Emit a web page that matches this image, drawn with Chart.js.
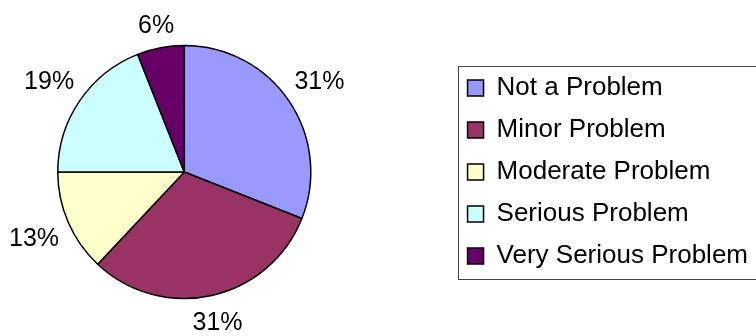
<!DOCTYPE html>
<html>
<head>
<meta charset="utf-8">
<script src="https://cdn.jsdelivr.net/npm/chart.js@4"></script>
<style>
  body { margin: 0; background: #fff; overflow: hidden; }
  #wrap { position: absolute; left: -83px; top: 0; width: 841px; height: 336px; }
</style>
</head>
<body>
<div id="wrap"><canvas id="pieChart" width="841" height="336"></canvas></div>
<script>
// Survey answers, share of respondents (%)
const categories = ["Not a Problem", "Minor Problem", "Moderate Problem", "Serious Problem", "Very Serious Problem"];
const shares = [31, 31, 13, 19, 6];
const sliceColors = ["#9999FF", "#993366", "#FFFFCC", "#CCFFFF", "#660066"];

const FONT = "'Liberation Sans', Arial, sans-serif";

// percent labels outside each slice
const outsideLabels = {
  id: "outsideLabels",
  afterDatasetsDraw(chart) {
    let ctx = chart.ctx;
    let meta = chart.getDatasetMeta(0);
    let size = 25;
    ctx.save();
    ctx.font = size + "px " + FONT;
    ctx.fillStyle = "#000";
    ctx.textAlign = "center";
    ctx.textBaseline = "alphabetic";
    meta.data.forEach((arc, i) => {
      let p = arc.getProps(["x", "y", "startAngle", "endAngle", "outerRadius"], true);
      let mid = (p.startAngle + p.endAngle) / 2;
      let text = shares[i] + "%";
      let hw = ctx.measureText(text).width / 2 + 2;
      let hh = 13.5;
      let r = p.outerRadius + 7 + hw * Math.abs(Math.cos(mid)) + hh * Math.abs(Math.sin(mid));
      let cx = p.x + r * Math.cos(mid);
      let cy = p.y + r * Math.sin(mid);
      ctx.fillText(text, cx, cy + 0.358 * size);
    });
    ctx.restore();
  }
};

// frame around the legend
const legendFrame = {
  id: "legendFrame",
  afterDraw(chart) {
    let boxes = chart.legend.legendHitBoxes;
    if (!boxes || !boxes.length) return;
    let first = boxes[0];
    let last = boxes[boxes.length - 1];
    let left = Math.round(first.left - 10) + 0.5;
    let top = Math.round(first.top - 9) + 0.5;
    let bottom = Math.round(last.top + last.height + 10) + 0.5;
    let ctx = chart.ctx;
    ctx.save();
    ctx.strokeStyle = "#444";
    ctx.lineWidth = 1;
    ctx.strokeRect(left, top, chart.width + 10 - left, bottom - top);
    ctx.restore();
  }
};

new Chart(document.getElementById("pieChart"), {
  type: "pie",
  data: {
    labels: categories,
    datasets: [{
      data: shares,
      backgroundColor: sliceColors,
      borderColor: "#000",
      borderWidth: 1.5,
      radius: 126.5
    }]
  },
  options: {
    responsive: false,
    animation: false,
    devicePixelRatio: 1,
    layout: { padding: { left: 0, right: 0, top: 8, bottom: 0 } },
    plugins: {
      tooltip: { enabled: false },
      legend: {
        position: "right",
        labels: {
          boxWidth: 16,
          boxHeight: 16,
          padding: 16,
          color: "#000",
          font: { family: FONT, size: 26 }
        }
      }
    }
  },
  plugins: [outsideLabels, legendFrame]
});
</script>
</body>
</html>
